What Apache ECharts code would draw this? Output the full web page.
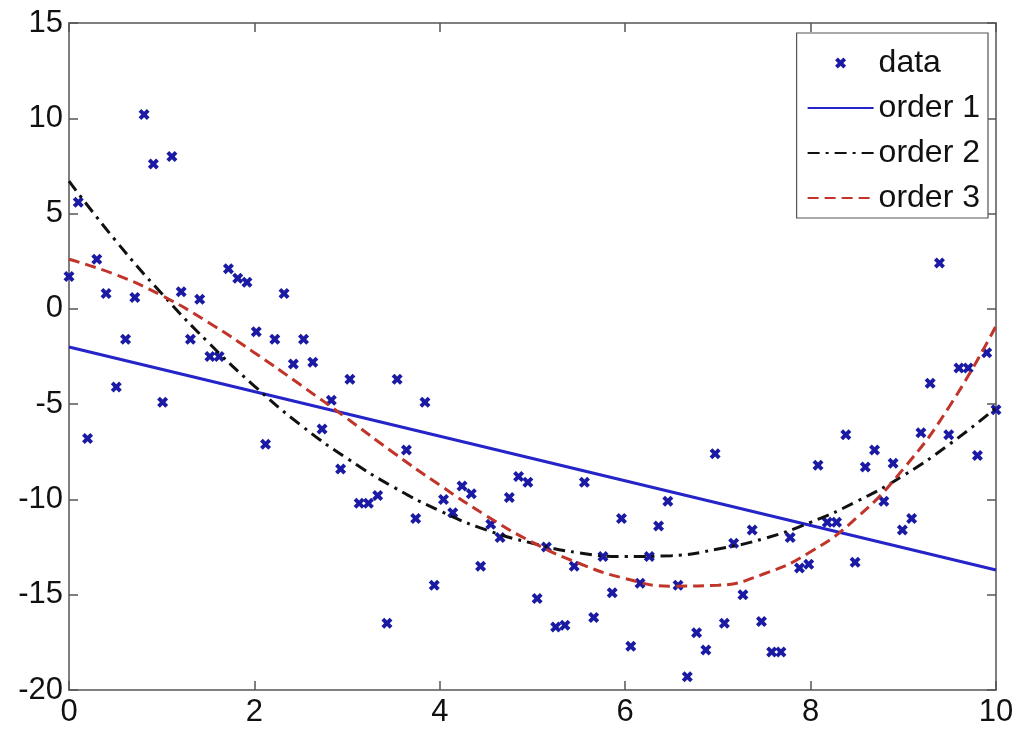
<!DOCTYPE html>
<html>
<head>
<meta charset="utf-8">
<style>
html, body {margin: 0; padding: 0; background: #fff;}
#chart {width: 1013px; height: 731px;}
</style>
<script src="https://cdn.jsdelivr.net/npm/echarts@6/dist/echarts.min.js"></script>
</head>
<body>
<div id="chart"></div>
<script>
// sample positions (100 points, 0..10)
var xs = [0, 0.10, 0.20, 0.30, 0.40, 0.51, 0.61, 0.71, 0.81, 0.91,
  1.01, 1.11, 1.21, 1.31, 1.41, 1.52, 1.62, 1.72, 1.82, 1.92,
  2.02, 2.12, 2.22, 2.32, 2.42, 2.53, 2.63, 2.73, 2.83, 2.93,
  3.03, 3.13, 3.23, 3.33, 3.43, 3.54, 3.64, 3.74, 3.84, 3.94,
  4.04, 4.14, 4.24, 4.34, 4.44, 4.55, 4.65, 4.75, 4.85, 4.95,
  5.05, 5.15, 5.25, 5.35, 5.45, 5.56, 5.66, 5.76, 5.86, 5.96,
  6.06, 6.16, 6.26, 6.36, 6.46, 6.57, 6.67, 6.77, 6.87, 6.97,
  7.07, 7.17, 7.27, 7.37, 7.47, 7.58, 7.68, 7.78, 7.88, 7.98,
  8.08, 8.18, 8.28, 8.38, 8.48, 8.59, 8.69, 8.79, 8.89, 8.99,
  9.09, 9.19, 9.29, 9.39, 9.49, 9.60, 9.70, 9.80, 9.90, 10];
var ys = [1.7, 5.6, -6.8, 2.6, 0.8, -4.1, -1.6, 0.6, 10.2, 7.6,
  -4.9, 8.0, 0.9, -1.6, 0.5, -2.5, -2.5, 2.1, 1.6, 1.4,
  -1.2, -7.1, -1.6, 0.8, -2.9, -1.6, -2.8, -6.3, -4.8, -8.4,
  -3.7, -10.2, -10.2, -9.8, -16.5, -3.7, -7.4, -11.0, -4.9, -14.5,
  -10.0, -10.7, -9.3, -9.7, -13.5, -11.3, -12.0, -9.9, -8.8, -9.1,
  -15.2, -12.5, -16.7, -16.6, -13.5, -9.1, -16.2, -13.0, -14.9, -11.0,
  -17.7, -14.4, -13.0, -11.4, -10.1, -14.5, -19.3, -17.0, -17.9, -7.6,
  -16.5, -12.3, -15.0, -11.6, -16.4, -18.0, -18.0, -12.0, -13.6, -13.4,
  -8.2, -11.2, -11.2, -6.6, -13.3, -8.3, -7.4, -10.1, -8.1, -11.6,
  -11.0, -6.5, -3.9, 2.4, -6.6, -3.1, -3.1, -7.7, -2.3, -5.3];

// fitted curves
var fitX1 = [0, 10];
var fit1 = [-2.0, -13.7];
var fitX = [0, 0.5, 1, 1.5, 2, 2.5, 3, 3.5, 4, 4.5, 5, 5.5, 6, 6.5, 7, 7.5, 8, 8.5, 9, 9.5, 10];
var fit2 = [6.7, 3.6, 0.8, -1.75, -4.05, -6.1, -7.85, -9.35, -10.6, -11.6, -12.3, -12.8, -13.0, -12.95, -12.6, -12.05, -11.2, -10.1, -8.75, -7.1, -5.2];
var fit3 = [2.6, 1.8, 0.7, -0.7, -2.3, -4.0, -5.75, -7.55, -9.25, -10.85, -12.25, -13.35, -14.15, -14.55, -14.5, -13.9, -12.75, -10.95, -8.4, -5.1, -0.9];

var xTicks = [0, 10, 2];
var yTicks = [-20, 15, 5];

function pairs(a, b) {
  var out = [];
  for (var i = 0; i < a.length; i++) out.push([a[i], b[i]]);
  return out;
}

var chart = echarts.init(document.getElementById('chart'));
var font = 'Liberation Sans, Arial, Helvetica, sans-serif';
var frame = '#555';
var crossIcon = 'path://M0,3L3,0L6,3L9,0L12,3L9,6L12,9L9,12L6,9L3,12L0,9L3,6Z';

function axisBase(pos, showLabels) {
  return {
    type: 'value',
    position: pos,
    axisLine: {show: true, onZero: false, lineStyle: {color: frame, width: 1.5}},
    axisTick: {show: true, inside: true, length: 9, lineStyle: {color: frame, width: 1.5}},
    axisLabel: {show: showLabels, color: '#111', fontFamily: font, fontSize: 31, margin: 8},
    splitLine: {show: false}
  };
}

var xb = axisBase('bottom', true);
xb.min = xTicks[0]; xb.max = xTicks[1]; xb.interval = xTicks[2];
xb.axisLabel.margin = 7;
var xt = axisBase('top', false);
xt.min = xTicks[0]; xt.max = xTicks[1]; xt.interval = xTicks[2];
var yl = axisBase('left', true);
yl.min = yTicks[0]; yl.max = yTicks[1]; yl.interval = yTicks[2];
yl.axisLabel.margin = 6;
var yr = axisBase('right', false);
yr.min = yTicks[0]; yr.max = yTicks[1]; yr.interval = yTicks[2];

var hideDot = {opacity: 0};

var option = {
  backgroundColor: '#fff',
  animation: false,
  grid: {left: 69, right: 17, top: 23, bottom: 41, outerBoundsMode: 'none'},
  legend: {
    orient: 'vertical',
    right: 25,
    top: 33,
    backgroundColor: '#fff',
    borderColor: frame,
    borderWidth: 1.2,
    borderRadius: 0,
    padding: [14, 8, 4, 10],
    itemWidth: 66,
    itemHeight: 11,
    itemGap: 13,
    textStyle: {fontFamily: font, fontSize: 32, color: '#111'},
    data: [
      {name: 'data'},
      {name: 'order 1', itemStyle: hideDot},
      {name: 'order 2', itemStyle: hideDot},
      {name: 'order 3', itemStyle: hideDot}
    ]
  },
  xAxis: [xb, xt],
  yAxis: [yl, yr],
  series: [
    {
      name: 'data',
      type: 'scatter',
      symbol: crossIcon,
      symbolSize: 11,
      itemStyle: {color: '#1a1aa4', opacity: 1},
      data: pairs(xs, ys)
    },
    {
      name: 'order 1',
      type: 'line',
      showSymbol: false,
      symbol: 'none',
      lineStyle: {color: '#2424c8', width: 3},
      itemStyle: {color: '#2424c8'},
      data: pairs(fitX1, fit1)
    },
    {
      name: 'order 2',
      type: 'line',
      smooth: true,
      showSymbol: false,
      symbol: 'none',
      lineStyle: {color: '#111', width: 3, type: [12, 6, 3, 6]},
      itemStyle: {color: '#111'},
      data: pairs(fitX, fit2)
    },
    {
      name: 'order 3',
      type: 'line',
      smooth: true,
      showSymbol: false,
      symbol: 'none',
      lineStyle: {color: '#c0342a', width: 3, type: [11, 6]},
      itemStyle: {color: '#c0342a'},
      data: pairs(fitX, fit3)
    }
  ]
};
chart.setOption(option);
</script>
</body>
</html>
